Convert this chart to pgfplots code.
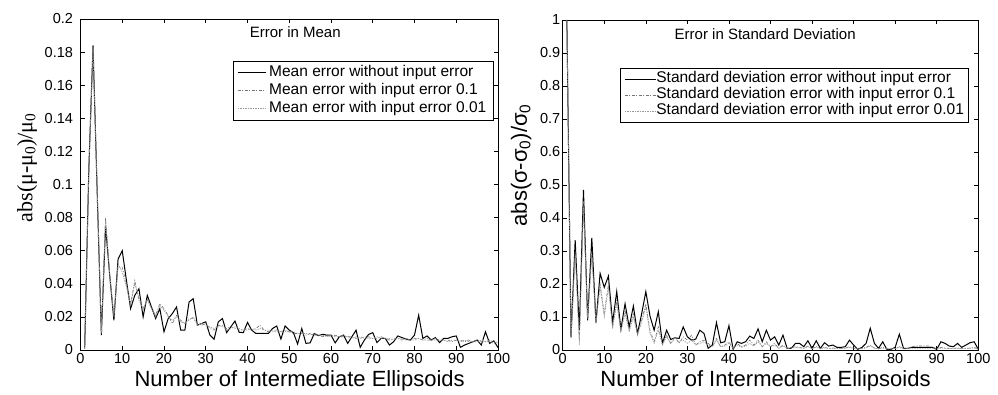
\documentclass[border=0pt]{standalone}
\usepackage{pgfplots}
\usepackage{pgfplotstable}
\pgfplotsset{compat=1.18}
\usepackage{fontspec}
\setmainfont{Liberation Sans}
\newfontfamily\serifjf{Liberation Serif}

\pgfplotstableread{
x m0 m1 m2
1 0.001 0.001 0.001
2 0.110 0.108 0.109
3 0.184 0.182 0.183
4 0.095 0.097 0.096
5 0.009 0.011 0.010
6 0.075 0.080 0.078
7 0.045 0.046 0.045
8 0.018 0.021 0.020
9 0.055 0.050 0.052
10 0.060 0.050 0.047
11 0.042 0.040 0.038
12 0.025 0.028 0.027
13 0.033 0.042 0.040
14 0.037 0.030 0.032
15 0.020 0.025 0.024
16 0.033 0.030 0.031
17 0.026 0.025 0.026
18 0.019 0.021 0.020
19 0.025 0.028 0.027
20 0.011 0.025 0.024
21 0.019 0.021 0.020
22 0.022 0.016 0.018
23 0.026 0.021 0.020
24 0.012 0.018 0.017
25 0.012 0.016 0.016
26 0.029 0.019 0.018
27 0.031 0.019 0.020
28 0.015 0.016 0.015
29 0.016 0.015 0.016
30 0.017 0.016 0.015
31 0.009 0.013 0.014
32 0.0065 0.012 0.013
33 0.017 0.015 0.014
34 0.019 0.014 0.015
35 0.0105 0.013 0.012
36 0.014 0.014 0.013
37 0.0175 0.013 0.014
38 0.0107 0.012 0.013
39 0.0105 0.012 0.012
40 0.0167 0.013 0.012
41 0.012 0.012 0.013
42 0.010 0.013 0.012
43 0.010 0.015 0.013
44 0.010 0.012 0.012
45 0.010 0.011 0.012
46 0.013 0.012 0.011
47 0.0145 0.012 0.011
48 0.0066 0.011 0.011
49 0.0145 0.011 0.012
50 0.012 0.011 0.011
51 0.0105 0.010 0.011
52 0.0036 0.010 0.010
53 0.013 0.010 0.010
54 0.004 0.009 0.010
55 0.0043 0.010 0.009
56 0.010 0.009 0.010
57 0.0087 0.009 0.009
58 0.0095 0.008 0.009
59 0.009 0.009 0.008
60 0.009 0.008 0.009
61 0.0043 0.009 0.008
62 0.008 0.008 0.008
63 0.009 0.008 0.009
64 0.004 0.008 0.008
65 0.008 0.008 0.007
66 0.012 0.007 0.008
67 0.0016 0.008 0.007
68 0.006 0.007 0.008
69 0.0094 0.008 0.007
70 0.0105 0.007 0.007
71 0.0045 0.007 0.008
72 0.007 0.008 0.007
73 0.007 0.007 0.007
74 0.003 0.006 0.007
75 0.005 0.007 0.006
76 0.0085 0.007 0.007
77 0.0075 0.006 0.007
78 0.0066 0.007 0.006
79 0.006 0.006 0.006
80 0.009 0.007 0.006
81 0.021 0.007 0.007
82 0.007 0.006 0.006
83 0.0085 0.006 0.007
84 0.006 0.006 0.006
85 0.0075 0.007 0.006
86 0.0045 0.006 0.006
87 0.007 0.006 0.006
88 0.007 0.006 0.005
89 0.008 0.005 0.006
90 0.0085 0.006 0.006
91 0.0016 0.006 0.005
92 0.003 0.005 0.006
93 0.004 0.006 0.005
94 0.005 0.005 0.005
95 0.006 0.006 0.005
96 0.003 0.005 0.006
97 0.011 0.005 0.005
98 0.004 0.006 0.005
99 0.0055 0.005 0.004
100 0.0015 0.004 0.005
}\meandata

\pgfplotstableread{
x s0 s1 s2
1 1.00 1.00 1.00
2 0.038 0.040 0.035
3 0.333 0.300 0.290
4 0.060 0.030 0.015
5 0.485 0.450 0.430
6 0.090 0.100 0.095
7 0.340 0.300 0.280
8 0.083 0.090 0.080
9 0.232 0.200 0.190
10 0.190 0.110 0.100
11 0.224 0.200 0.190
12 0.083 0.070 0.065
13 0.177 0.150 0.140
14 0.063 0.060 0.055
15 0.140 0.120 0.110
16 0.070 0.060 0.055
17 0.133 0.110 0.100
18 0.050 0.050 0.045
19 0.110 0.090 0.085
20 0.177 0.140 0.130
21 0.103 0.060 0.050
22 0.060 0.025 0.020
23 0.116 0.070 0.060
24 0.020 0.020 0.015
25 0.060 0.045 0.040
26 0.032 0.020 0.020
27 0.037 0.040 0.035
28 0.035 0.020 0.025
29 0.070 0.040 0.030
30 0.040 0.030 0.020
31 0.030 0.045 0.030
32 0.033 0.015 0.015
33 0.060 0.025 0.020
34 0.050 0.030 0.025
35 0.005 0.020 0.015
36 0.015 0.010 0.010
37 0.083 0.035 0.030
38 0.022 0.010 0.010
39 0.025 0.015 0.012
40 0.074 0.025 0.020
41 0.002 0.005 0.005
42 0.025 0.020 0.015
43 0.020 0.010 0.008
44 0.025 0.015 0.012
45 0.042 0.030 0.020
46 0.035 0.015 0.012
47 0.064 0.030 0.025
48 0.025 0.010 0.010
49 0.060 0.025 0.020
50 0.030 0.010 0.010
51 0.040 0.020 0.015
52 0.015 0.005 0.005
53 0.045 0.015 0.012
54 0.005 0.005 0.005
55 0.005 0.008 0.005
56 0.020 0.010 0.008
57 0.020 0.008 0.006
58 0.010 0.005 0.005
59 0.028 0.012 0.010
60 0.005 0.005 0.004
61 0.028 0.010 0.008
62 0.005 0.005 0.004
63 0.022 0.008 0.006
64 0.012 0.005 0.005
65 0.015 0.006 0.005
66 0.008 0.005 0.004
67 0.008 0.005 0.004
68 0.010 0.006 0.005
69 0.030 0.010 0.008
70 0.015 0.006 0.005
71 0.002 0.004 0.003
72 0.008 0.005 0.004
73 0.020 0.008 0.006
74 0.066 0.015 0.012
75 0.020 0.006 0.005
76 0.005 0.004 0.004
77 0.025 0.008 0.006
78 0.002 0.004 0.003
79 0.002 0.004 0.003
80 0.008 0.005 0.004
81 0.048 0.010 0.008
82 0.005 0.004 0.003
83 0.005 0.004 0.004
84 0.008 0.010 0.004
85 0.008 0.012 0.004
86 0.008 0.012 0.004
87 0.008 0.012 0.004
88 0.008 0.012 0.004
89 0.008 0.008 0.004
90 0.002 0.004 0.003
91 0.025 0.008 0.006
92 0.020 0.006 0.005
93 0.012 0.005 0.004
94 0.010 0.005 0.004
95 0.020 0.006 0.005
96 0.008 0.004 0.004
97 0.015 0.005 0.004
98 0.022 0.006 0.005
99 0.025 0.008 0.006
100 0.002 0.003 0.003
}\sddata

\pgfplotsset{
  matlab/.style={
    scale only axis,
    xmin=0, xmax=100, xtick={0,10,...,100},
    tick align=inside, xtick pos=both, ytick pos=both,
    major tick length=4pt,
    every tick/.style={black, line width=0.6pt},
    axis line style={line width=0.8pt},
    tick label style={font=\fontsize{14.5}{16}\selectfont},
    /pgf/number format/assume math mode=true,
    legend cell align=left,
    legend style={draw=black, line width=0.6pt, fill=white, anchor=north west,
      font=\fontsize{15.5}{17}\selectfont},
  },
  s0/.style={black, line width=1pt},
  s1/.style={black!55, line width=0.6pt, dash pattern=on 3pt off 1.5pt on 1pt off 1.5pt},
  s2/.style={black!40, line width=0.6pt, dash pattern=on 1.5pt off 1pt},
}

\begin{document}
\begin{tikzpicture}
\useasboundingbox (0pt,0pt) rectangle (998pt,394pt);
\begin{axis}[matlab,
  at={(80.5pt,44pt)}, anchor=south west,
  width=417.5pt, height=331pt,
  ymin=0, ymax=0.2,
  ytick={0,0.02,0.04,0.06,0.08,0.1,0.12,0.14,0.16,0.18,0.2},
  yticklabels={0,0.02,0.04,0.06,0.08,0.1,0.12,0.14,0.16,0.18,0.2},
  yticklabel style={xshift=-4pt},
  xlabel={Number of Intermediate Ellipsoids},
  xlabel style={font=\fontsize{22}{24}\selectfont, at={(axis description cs:0.525,-0.111)}, anchor=base},
  ylabel={\serifjf abs(μ-μ\textsubscript{0})/μ\textsubscript{0}},
  ylabel style={font=\fontsize{22}{24}\selectfont, at={(axis description cs:-0.128,0.551)}, anchor=center},
  legend image code/.code={\draw[#1] (0pt,0pt) -- (28pt,0pt);},
  legend style={at={(0.365,0.873)}, inner xsep=4pt, inner ysep=3pt, row sep=1.5pt,
    nodes={inner xsep=3pt, inner ysep=1pt, text height=11pt, text depth=3.5pt}},
]
\addplot[s0] table[x=x,y=m0] {\meandata};
\addlegendentry{Mean error without input error}
\addplot[s1] table[x=x,y=m1] {\meandata};
\addlegendentry{Mean error with input error 0.1}
\addplot[s2] table[x=x,y=m2] {\meandata};
\addlegendentry{Mean error with input error 0.01}
\node[anchor=west, font=\fontsize{15}{17}\selectfont] at (rel axis cs:0.397,0.96) {Error in Mean};
\end{axis}

\begin{axis}[matlab,
  at={(562.7pt,44pt)}, anchor=south west,
  width=415.6pt, height=330pt,
  ymin=0, ymax=1,
  ytick={0,0.1,0.2,0.3,0.4,0.5,0.6,0.7,0.8,0.9,1},
  yticklabels={0,0.1,0.2,0.3,0.4,0.5,0.6,0.7,0.8,0.9,1},
  yticklabel style={xshift=1pt},
  xlabel={Number of Intermediate Ellipsoids},
  xlabel style={font=\fontsize{22}{24}\selectfont, at={(axis description cs:0.488,-0.111)}, anchor=base},
  ylabel={abs(σ-σ\textsubscript{0})/σ\textsubscript{0}},
  ylabel style={font=\fontsize{22}{24}\selectfont, at={(axis description cs:-0.10,0.56)}, anchor=center},
  legend image code/.code={\draw[#1] (0pt,0pt) -- (31pt,0pt);},
  legend style={at={(0.138,0.855)}, inner xsep=4pt, inner ysep=3pt, row sep=0pt,
    nodes={inner xsep=0pt, inner ysep=1pt, text height=10.5pt, text depth=3.5pt}},
]
\addplot[s0] table[x=x,y=s0] {\sddata};
\addlegendentry{Standard deviation error without input error}
\addplot[s1] table[x=x,y=s1] {\sddata};
\addlegendentry{Standard deviation error with input error 0.1}
\addplot[s2] table[x=x,y=s2] {\sddata};
\addlegendentry{Standard deviation error with input error 0.01}
\node[anchor=west, font=\fontsize{15}{17}\selectfont] at (rel axis cs:0.261,0.958) {Error in Standard Deviation};
\end{axis}
\end{tikzpicture}
\end{document}
